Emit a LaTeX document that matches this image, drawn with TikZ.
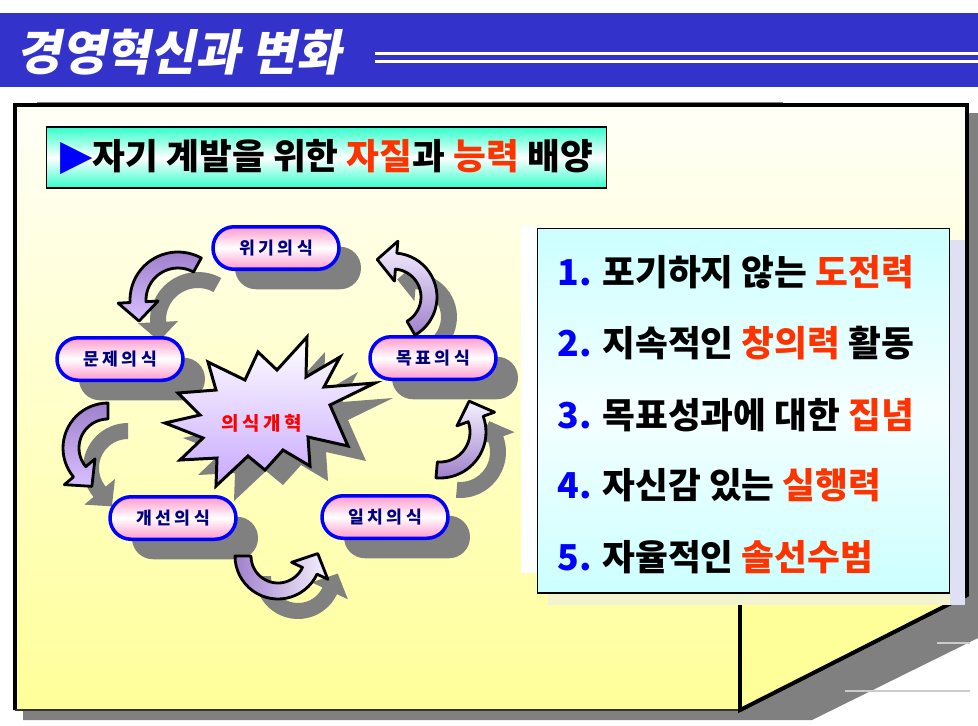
\documentclass[tikz,border=0pt]{standalone}
\usepackage{fontspec}
\setmainfont{Noto Sans CJK KR}
\newfontfamily\titlefont{Noto Sans CJK KR}[FakeSlant=0.2]
\newfontfamily\symfont{DejaVu Sans}
\usepackage{xcolor}
\usetikzlibrary{shadows,positioning}
\definecolor{banner}{HTML}{3333CC}
\definecolor{pagetop}{HTML}{FFFFF8}
\definecolor{pagebot}{HTML}{FFFF99}
\definecolor{shadowgray}{HTML}{808080}
\definecolor{hdrcyan}{HTML}{33FFCC}
\definecolor{listcyan}{HTML}{CCFFFF}
\definecolor{hot}{HTML}{FF3300}
\definecolor{nodepink}{HTML}{FF99CC}
\definecolor{navy}{HTML}{000080}
\definecolor{arrdark}{HTML}{A080CC}
\definecolor{arrlight}{HTML}{D8C0FF}
\definecolor{arrwhite}{HTML}{F6F2FF}
\definecolor{burstlow}{HTML}{C8A8FF}
\tikzset{
  pill/.style={draw=blue,line width=2pt,rounded corners=0.42cm,minimum width=2.52cm,
    minimum height=0.85cm,top color=nodepink,bottom color=nodepink,middle color=white,
    drop shadow={shadow xshift=0.44cm,shadow yshift=-0.4cm,fill=shadowgray,opacity=1},
    font=\fontsize{9.8}{10}\selectfont\bfseries,text=navy},
  bendline/.style={draw=black,line width=1.6pt,line join=round},
  item/.style={anchor=west,inner sep=0pt,font=\fontsize{20.3}{21}\selectfont\bfseries},
  hdrbox/.style={draw=black,line width=0.6pt,top color=hdrcyan,bottom color=hdrcyan,middle color=white,
    minimum width=11.22cm,inner xsep=0.05cm,minimum height=1.22cm,
    font=\fontsize{20.3}{21}\selectfont\bfseries},
  listbox/.style={draw=black,line width=0.6pt,top color=listcyan,bottom color=listcyan,
    middle color=listcyan!20,minimum width=8.26cm,minimum height=7.3cm}
}
\newcommand{\lsp}{\hspace{2pt}}
\newcommand{\bandw}{8}
\newcommand{\headw}{20}
\newcommand{\headl}{19}
% curved block arrow: cx, cy, radius, tail angle, head angle, fill
\newcommand{\bendarrow}[6]{%
  \pgfmathsetmacro{\sg}{sign(#5-#4)}
  \path[#6] plot[variable=\t,domain=#4:#5,samples=24] ({#1+(#3+\bandw)*cos(\t)},{#2+(#3+\bandw)*sin(\t)})
    -- ({#1+(#3+\headw)*cos(#5)},{#2+(#3+\headw)*sin(#5)})
    -- ({#1+#3*cos(#5)-(\sg)*\headl*sin(#5)},{#2+#3*sin(#5)+(\sg)*\headl*cos(#5)})
    -- ({#1+(#3-\headw)*cos(#5)},{#2+(#3-\headw)*sin(#5)})
    -- plot[variable=\t,domain=#5:#4,samples=24] ({#1+(#3-\bandw)*cos(\t)},{#2+(#3-\bandw)*sin(\t)})
    -- cycle;
}
\newcommand{\burstpath}{(165,423) -- (200,415) -- (178,393) -- (216,390) -- (208,362) -- (245,380)
  -- (258,352) -- (277,370) -- (307,337) -- (306,377) -- (340,357) -- (324,387) -- (375,383)
  -- (330,405) -- (348,446) -- (308,437) -- (310,466) -- (283,450) -- (265,470) -- (248,456)
  -- (216,486) -- (217,458) -- (180,460) -- (203,438) -- cycle}

\begin{document}
\begin{tikzpicture}[x=0.02cm,y=-0.02cm]
 \useasboundingbox (0,0) rectangle (978,725);
 \fill[white] (0,0) rectangle (978,725);
 % title band
 \fill[banner] (0,13) rectangle (978,87);
 \node[anchor=west,inner sep=0pt,text=white,font=\titlefont\bfseries\fontsize{27.7}{28}\selectfont]
   (title) at (16,52) {경영혁신과 변화};
 \draw[white,line width=1.7pt] (375,53.5) -- (978,53.5) (375,61.5) -- (978,61.5);
 % page with folded corner
 \fill[shadowgray] (23,113) -- (978,113) -- (978,638) -- (812,720) -- (23,720) -- cycle;
 \draw[shadowgray,line width=1pt] (37,103) -- (783,103);
 \path[top color=pagetop,bottom color=pagebot] (15,105) -- (967,105) -- (967,595) -- (740,710)
   -- (15,710) -- cycle;
 \draw[line width=2.2pt] (15,710) -- (15,105) -- (967,105) -- (967,595) -- (740,710);
 \draw[line width=0.6pt,black!80] (740,710) -- (15,710);
 \fill[pagebot] (740,597) -- (967,595) -- (740,710) -- cycle;
 \draw[line width=2.2pt] (740,597) -- (740,710) -- (967,595);
 \draw[line width=1.2pt,black!20] (937,643) -- (970,643) (845,691) -- (970,691);
 % list panel
 \fill[white] (521,226) rectangle (900,573);
 \fill[black!35!blue!12!white] (950,240) rectangle (965,605);
 \fill[black!12!pagebot!40!white] (548,593) rectangle (965,605);
 \fill[black!35!blue!12!white] (950,593) rectangle (965,605);
 \node[listbox] (list) at (743.5,410.5) {};
 \node[item] (item1) at (557,272) {\textcolor{blue}{1.} 포기하지 않는 \textcolor{hot}{도전력}};
 \node[item] (item2) at (557,343) {\textcolor{blue}{2.} 지속적인 \textcolor{hot}{창의력} 활동};
 \node[item] (item3) at (557,415) {\textcolor{blue}{3.} 목표성과에 대한 \textcolor{hot}{집념}};
 \node[item] (item4) at (557,485) {\textcolor{blue}{4.} 자신감 있는 \textcolor{hot}{실행력}};
 \node[item] (item5) at (557,557) {\textcolor{blue}{5.} 자율적인 \textcolor{hot}{솔선수범}};
 % heading
 \node[hdrbox] (hdr) at (326.5,157.5) {{\symfont\fontsize{24}{24}\selectfont\textcolor{blue}{▶}}자기 계발을 위한
   \textcolor{hot}{자질}과 \textcolor{hot}{능력} 배양};
 % shadows of arrows and burst
 \begin{scope}[shift={(20,20)}]
  \bendarrow{178}{300}{40}{-61}{-183}{fill=shadowgray}
  \bendarrow{393}{297}{36}{60}{-85}{fill=shadowgray}
  \bendarrow{108}{448}{37}{-90}{-220}{fill=shadowgray}
  \bendarrow{278}{556}{35}{180}{25}{fill=shadowgray}
  \bendarrow{440}{432}{38}{95}{-20}{fill=shadowgray}
 \end{scope}
 \begin{scope}[shift={(18,15)}]
  \fill[shadowgray] \burstpath;
 \end{scope}
 % cycle
 \node[pill] (crisis) at (276,248) {위\lsp 기\lsp 의\lsp 식};
 \node[pill] (problem) at (120,359) {문\lsp 제\lsp 의\lsp 식};
 \node[pill] (goal) at (433,358) {목\lsp 표\lsp 의\lsp 식};
 \node[pill] (improve) at (173,518) {개\lsp 선\lsp 의\lsp 식};
 \node[pill] (unity) at (385,517) {일\lsp 치\lsp 의\lsp 식};
 \bendarrow{178}{300}{40}{-61}{-183}{bendline,top color=arrdark,bottom color=arrlight}
 \bendarrow{393}{297}{36}{60}{-85}{bendline,top color=arrwhite,bottom color=arrdark}
 \bendarrow{108}{448}{37}{-90}{-220}{bendline,top color=arrdark,bottom color=arrlight}
 \bendarrow{278}{556}{35}{180}{25}{bendline,left color=arrdark,right color=arrwhite}
 \bendarrow{440}{432}{38}{95}{-20}{bendline,top color=arrwhite,bottom color=arrdark}
 \path[draw=black,line width=1.7pt,line join=miter,top color=white,bottom color=burstlow] \burstpath;
 \node[text=red,font=\fontsize{10.8}{11}\selectfont\bfseries] (core) at (262,423)
   {의\lsp 식\lsp 개\lsp 혁};
\end{tikzpicture}
\end{document}
